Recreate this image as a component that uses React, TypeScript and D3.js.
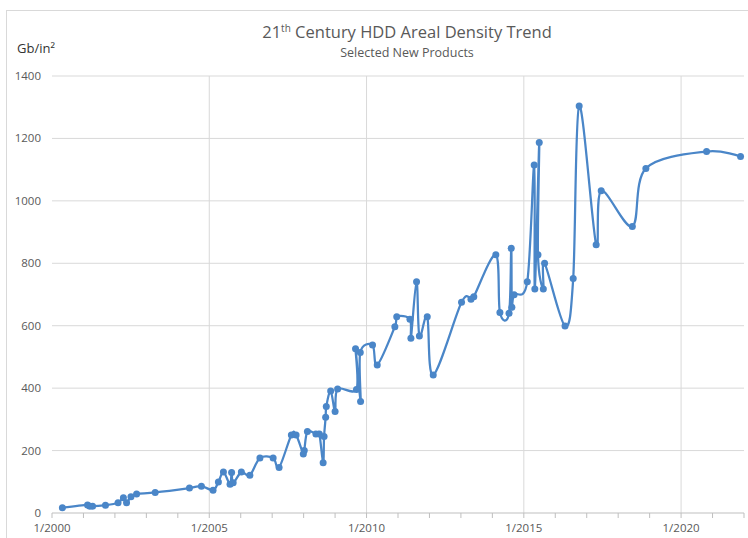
import React from 'react';
import * as d3 from 'd3';

// Release date (decimal year) of each selected new product
const dates = [
  2000.33, 2001.13, 2001.2, 2001.29, 2001.7, 2002.1, 2002.27, 2002.37, 2002.51, 2002.69,
  2003.28, 2004.37, 2004.75, 2005.12, 2005.29, 2005.45, 2005.66, 2005.71, 2005.76, 2006.02,
  2006.29, 2006.61, 2007.03, 2007.22, 2007.61, 2007.76, 2007.99, 2008.02, 2008.12, 2008.39,
  2008.5, 2008.62, 2008.65, 2008.7, 2008.72, 2008.86, 2009.0, 2009.08, 2009.68, 2009.65,
  2009.81, 2009.8, 2010.19, 2010.34, 2010.9, 2010.96, 2011.38, 2011.41, 2011.59, 2011.68,
  2011.93, 2012.12, 2013.02, 2013.32, 2013.41, 2014.11, 2014.24, 2014.53, 2014.6, 2014.62,
  2014.69, 2015.11, 2015.33, 2015.35, 2015.49, 2015.45, 2015.62, 2015.66, 2016.31, 2016.57,
  2016.76, 2017.3, 2017.46, 2018.45, 2018.88, 2020.81, 2021.89,
];

// Areal density, Gb/in²
const density = [
  17, 26, 22, 22, 25, 33, 49, 33, 52, 61,
  66, 80, 86, 73, 99, 131, 92, 130, 97, 131,
  121, 176, 176, 146, 250, 250, 189, 200, 261, 253,
  253, 161, 245, 307, 341, 391, 325, 397, 396, 526,
  357, 514, 538, 474, 597, 629, 621, 560, 741, 567,
  629, 442, 675, 685, 693, 827, 642, 640, 848, 659,
  699, 741, 1115, 718, 1187, 827, 718, 800, 599, 751,
  1304, 859, 1032, 918, 1104, 1158, 1142,
];

const yTicks = [0, 200, 400, 600, 800, 1000, 1200, 1400];
const xMajorYears = [2000, 2005, 2010, 2015, 2020];
const xLabels = ['1/2000', '1/2005', '1/2010', '1/2015', '1/2020'];
const xMinorYears = d3.range(2000, 2023);

const W = 748;
const H = 538;
const FONT = "'Open Sans', 'Noto Sans', sans-serif";
const TEXT = '#595959';
const GRID = '#d9d9d9';
const BLUE = '#4a86c8';

export default function App() {
  const x = d3.scaleLinear().domain([2000, 2022]).range([52, 744]);
  const y = d3.scaleLinear().domain([0, 1400]).range([513, 76]);

  const pts: [number, number][] = dates.map((d, i) => [x(d), y(density[i])]);
  const line = d3.line().curve(d3.curveCatmullRom.alpha(0))(pts) || '';

  return (
    <svg
      width={W}
      height={H}
      style={{ position: 'fixed', left: 0, top: 0, background: '#fff' }}
      fontFamily={FONT}
    >
      <rect x={0} y={0} width={W} height={H} fill="#fff" />
      <rect x={6.5} y={10.5} width={W + 20} height={H + 20} fill="none" stroke={GRID} />

      {/* horizontal gridlines */}
      {yTicks.slice(1).map((t) => (
        <line key={'h' + t} x1={x(2000)} x2={x(2022)} y1={y(t)} y2={y(t)} stroke={GRID} strokeWidth={1} />
      ))}
      {/* vertical gridlines */}
      {xMajorYears.slice(1).map((yr) => (
        <line key={'v' + yr} x1={x(yr)} x2={x(yr)} y1={y(1400)} y2={y(0)} stroke={GRID} strokeWidth={1} />
      ))}

      {/* x axis */}
      <line x1={x(2000)} x2={x(2022)} y1={y(0)} y2={y(0)} stroke="#bfbfbf" strokeWidth={1} />
      {xMinorYears.map((yr) => (
        <line key={'t' + yr} x1={x(yr)} x2={x(yr)} y1={y(0)} y2={y(0) + 5} stroke="#bfbfbf" strokeWidth={1} />
      ))}
      {xMajorYears.map((yr, i) => (
        <text key={'xl' + yr} x={x(yr)} y={532} textAnchor="middle" fontSize={11.5} fill={TEXT}>
          {xLabels[i]}
        </text>
      ))}

      {/* y labels */}
      {yTicks.map((t) => (
        <text key={'yl' + t} x={41} y={y(t) + 4} textAnchor="end" fontSize={11.5} fill={TEXT}>
          {t}
        </text>
      ))}

      {/* titles */}
      <text x={407} y={38} textAnchor="middle" fontSize={16.5} fill={TEXT}>
        21<tspan fontSize={10} dy={-6}>th</tspan>
        <tspan dy={6}> Century HDD Areal Density Trend</tspan>
      </text>
      <text x={407} y={57} textAnchor="middle" fontSize={12.5} fill={TEXT}>
        Selected New Products
      </text>
      <text x={17} y={53} fontSize={13} fill="#333">
        Gb/in²
      </text>

      {/* series */}
      <path d={line} fill="none" stroke={BLUE} strokeWidth={2.25} strokeLinejoin="round" />
      {pts.map((p, i) => (
        <circle key={'p' + i} cx={p[0]} cy={p[1]} r={3.5} fill={BLUE} />
      ))}
    </svg>
  );
}
